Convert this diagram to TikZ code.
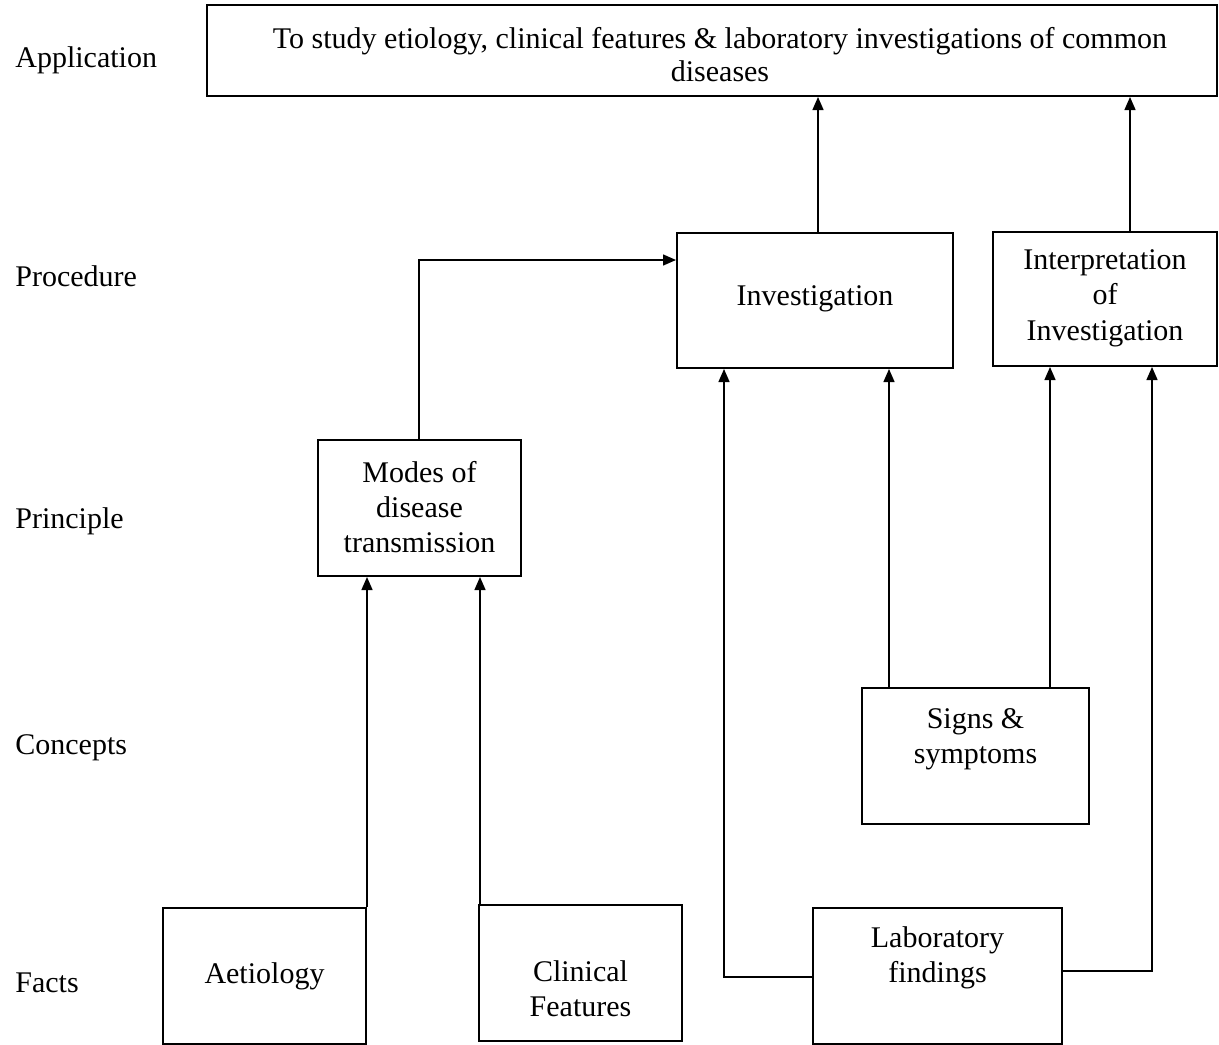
\documentclass[tikz,border=0pt]{standalone}
\usepackage{fontspec}
\setmainfont{Liberation Serif}
\usetikzlibrary{arrows.meta}
\begin{document}
\begin{tikzpicture}[x=0.5pt,y=-0.5pt,
  every node/.style={font=\fontsize{15}{17.7}\selectfont},
  box/.style={draw, line width=1pt, rectangle, inner sep=0pt},
  txt/.style={align=center, inner sep=0pt},
  lbl/.style={anchor=west, inner sep=0pt},
  conn/.style={line width=0.7pt},
  arr/.style={line width=0.7pt, -{Triangle[length=6.5pt,width=5.5pt]}}]
\useasboundingbox (0,0) rectangle (1219,1044);
% level labels
\node[lbl] (lApp)  at (15,60)  {Application};
\node[lbl] (lProc) at (15,276) {Procedure};
\node[lbl] (lPrin) at (15,521) {Principle};
\node[lbl] (lCon)  at (15,748) {Concepts};
\node[lbl] (lFac)  at (15,983) {Facts};
% boxes
\node[box, minimum width=505pt, minimum height=45.5pt] (top) at (712,50.5) {};
\node[txt, font=\fontsize{15}{16.5}\selectfont] (topT) at (720,55) {To study etiology, clinical features \& laboratory investigations of common\\diseases};
\node[box, minimum width=138pt, minimum height=67.5pt] (inv) at (815,300.5) {};
\node[txt] (invT) at (815,299) {Investigation};
\node[box, minimum width=112pt, minimum height=67pt] (int) at (1105,299) {};
\node[txt] (intT) at (1105,298) {Interpretation\\of\\Investigation};
\node[box, minimum width=101.5pt, minimum height=68pt] (mod) at (419.5,508) {};
\node[txt] (modT) at (419.5,507) {Modes of\\disease\\transmission};
\node[box, minimum width=113.5pt, minimum height=68pt] (sig) at (975.5,756) {};
\node[txt] (sigT) at (975.5,739) {Signs \&\\symptoms};
\node[box, minimum width=101.5pt, minimum height=68pt] (aet) at (264.5,976) {};
\node[txt] (aetT) at (264.5,976) {Aetiology};
\node[box, minimum width=101.5pt, minimum height=68pt] (cli) at (580.5,973) {};
\node[txt] (cliT) at (580.5,989) {Clinical\\Features};
\node[box, minimum width=124.5pt, minimum height=68pt] (lab) at (937.5,976) {};
\node[txt] (labT) at (937.5,958) {Laboratory\\findings};
% reference coordinates
\coordinate (xa) at (818,0);
\coordinate (xb) at (1130,0);
\coordinate (xc) at (419,0);
\coordinate (xe) at (480,0);
\coordinate (xf) at (724,0);
\coordinate (xg) at (1152,0);
\coordinate (xh) at (889,0);
\coordinate (xi) at (1050,0);
\coordinate (yA) at (0,260);
\coordinate (yL) at (0,977);
\coordinate (yR) at (0,971);
% connectors
\draw[arr] (inv.north -| xa) -- (top.south -| xa);
\draw[arr] (int.north -| xb) -- (top.south -| xb);
\draw[arr] (mod.north -| xc) -- (xc |- yA) -- (inv.west |- yA);
\draw[arr] (aet.north east) -- (mod.south -| aet.north east);
\draw[arr] (cli.north -| xe) -- (mod.south -| xe);
\draw[arr] (lab.west |- yL) -- (xf |- yL) -- (inv.south -| xf);
\draw[arr] (lab.east |- yR) -- (xg |- yR) -- (int.south -| xg);
\draw[arr] (sig.north -| xh) -- (inv.south -| xh);
\draw[arr] (sig.north -| xi) -- (int.south -| xi);
\end{tikzpicture}
\end{document}
